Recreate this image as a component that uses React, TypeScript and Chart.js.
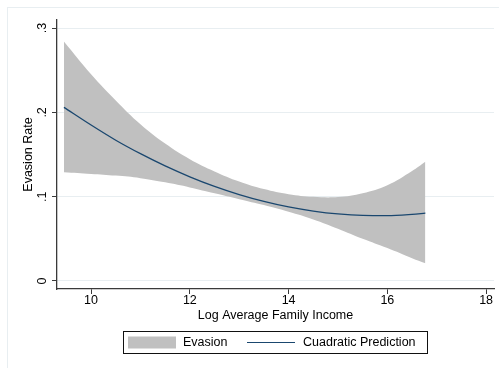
import React, { useEffect, useRef } from "react";
import { Chart, registerables } from "chart.js";

Chart.register(...registerables);

// Log average family income grid and fitted values
const incomeGrid = [9.45, 10, 10.5, 11, 11.5, 12, 12.5, 13, 13.5, 14, 14.5, 15, 15.5, 16, 16.5, 16.77];
const predictedRate = [0.206, 0.185, 0.167, 0.151, 0.1365, 0.1236, 0.1122, 0.1025, 0.0944, 0.0878, 0.0829, 0.0795, 0.0778, 0.0776, 0.0791, 0.0805];
const upperBound = [0.284, 0.2452, 0.2142, 0.186, 0.163, 0.1445, 0.13, 0.118, 0.109, 0.103, 0.0998, 0.0995, 0.104, 0.1135, 0.1305, 0.1415];
const lowerBound = [0.129, 0.127, 0.125, 0.122, 0.117, 0.111, 0.104, 0.097, 0.09, 0.082, 0.073, 0.062, 0.05, 0.039, 0.027, 0.021];

const xTickValues = [10, 12, 14, 16, 18];
const yTickValues = [0, 0.1, 0.2, 0.3];
const yTickLabels = ["0", ".1", ".2", ".3"];

const xTitle = "Log Average Family Income";
const yTitle = "Evasion Rate";
const bandLabel = "Evasion";
const lineLabel = "Cuadratic Prediction";

const FONT = "12.5px 'Liberation Sans', Arial, Helvetica, sans-serif";
const BAND = "#c0c0c0";
const NAVY = "#1a476f";
const AXIS = "#3a3a3a";
const LIGHT = "#e8eef1";

const toPoints = (ys: number[]) => incomeGrid.map((x, i) => ({ x, y: ys[i] }));

const decorations = {
  id: "decorations",
  beforeDraw(chart: any) {
    const { ctx } = chart;
    ctx.save();
    ctx.strokeStyle = LIGHT;
    ctx.lineWidth = 1;
    ctx.strokeRect(7.5, 7.5, chart.width, chart.height);
    ctx.restore();
  },
  afterDraw(chart: any) {
    const { ctx, chartArea } = chart;
    const xs = chart.scales.x;
    const ys = chart.scales.y;
    ctx.save();
    ctx.fillStyle = "#000";
    ctx.font = FONT;
    ctx.textBaseline = "middle";

    // x tick labels
    ctx.textAlign = "center";
    xTickValues.forEach((v) => {
      ctx.fillText(String(v), xs.getPixelForValue(v), 301);
    });
    // x title
    const cx = (chartArea.left + chartArea.right) / 2;
    ctx.fillText(xTitle, cx, 316);

    // y tick labels (rotated)
    yTickValues.forEach((v, i) => {
      ctx.save();
      ctx.translate(43, ys.getPixelForValue(v));
      ctx.rotate(-Math.PI / 2);
      ctx.fillText(yTickLabels[i], 0, 0);
      ctx.restore();
    });
    // y title
    ctx.save();
    ctx.translate(29, (chartArea.top + chartArea.bottom) / 2);
    ctx.rotate(-Math.PI / 2);
    ctx.fillText(yTitle, 0, 0);
    ctx.restore();

    // legend
    const boxLeft = 123.5;
    const boxTop = 331.5;
    const boxW = 304;
    const boxH = 22;
    ctx.strokeStyle = "#111";
    ctx.lineWidth = 1;
    ctx.strokeRect(boxLeft, boxTop, boxW, boxH);
    const midY = boxTop + boxH / 2;
    ctx.fillStyle = BAND;
    ctx.fillRect(128, midY - 6, 48, 12);
    ctx.fillStyle = "#000";
    ctx.textAlign = "left";
    ctx.fillText(bandLabel, 183, midY);
    ctx.strokeStyle = NAVY;
    ctx.lineWidth = 1.2;
    ctx.beginPath();
    ctx.moveTo(247, midY);
    ctx.lineTo(295, midY);
    ctx.stroke();
    ctx.fillText(lineLabel, 303, midY);
    ctx.restore();
  },
};

export default function App() {
  const canvasRef = useRef<HTMLCanvasElement | null>(null);

  useEffect(() => {
    document.body.style.margin = "0";
    const canvas = canvasRef.current;
    if (!canvas) return;
    const chart = new Chart(canvas, {
      type: "line",
      data: {
        datasets: [
          {
            label: lineLabel,
            data: toPoints(predictedRate),
            borderColor: NAVY,
            borderWidth: 1.3,
            pointRadius: 0,
            fill: false,
            cubicInterpolationMode: "monotone",
          },
          {
            label: "upper",
            data: toPoints(upperBound),
            borderWidth: 0,
            borderColor: "rgba(0,0,0,0)",
            pointRadius: 0,
            fill: false,
            tension: 0.4,
          },
          {
            label: bandLabel,
            data: toPoints(lowerBound),
            borderWidth: 0,
            borderColor: "rgba(0,0,0,0)",
            backgroundColor: BAND,
            pointRadius: 0,
            fill: "-1",
            tension: 0.4,
          },
        ],
      },
      options: {
        animation: false,
        responsive: true,
        maintainAspectRatio: false,
        layout: { padding: { top: 20, right: 5, left: 0, bottom: 0 } },
        plugins: {
          legend: { display: false },
          tooltip: { enabled: false },
        },
        scales: {
          x: {
            type: "linear",
            min: 9.31,
            max: 18.16,
            afterBuildTicks: (s: any) => {
              s.ticks = xTickValues.map((value) => ({ value }));
            },
            afterFit: (s: any) => {
              s.height = 79;
            },
            ticks: { display: false },
            grid: {
              drawOnChartArea: false,
              drawTicks: true,
              tickLength: 5,
              tickColor: AXIS,
              tickWidth: 1,
            },
            border: { display: true, color: AXIS, width: 1.3 },
          },
          y: {
            type: "linear",
            min: -0.0095,
            max: 0.3096,
            afterBuildTicks: (s: any) => {
              s.ticks = yTickValues.map((value) => ({ value }));
            },
            afterFit: (s: any) => {
              s.width = 57;
            },
            ticks: { display: false },
            grid: {
              color: LIGHT,
              lineWidth: 1,
              drawTicks: true,
              tickLength: 5,
              tickColor: AXIS,
              tickWidth: 1,
            },
            border: { display: true, color: AXIS, width: 1.3 },
          },
        },
      },
      plugins: [decorations],
    });
    return () => chart.destroy();
  }, []);

  return (
    <div style={{ position: "fixed", left: 0, top: 0, width: 499, height: 368, background: "#fff" }}>
      <canvas ref={canvasRef} />
    </div>
  );
}
